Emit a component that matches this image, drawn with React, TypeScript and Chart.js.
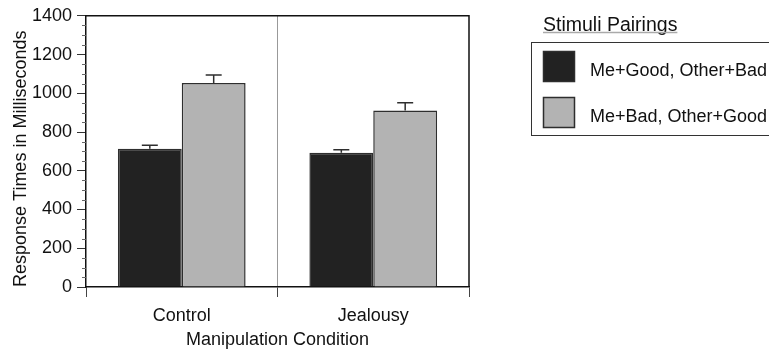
import React, { useEffect, useRef } from "react";
import { Chart, registerables } from "chart.js";

Chart.register(...registerables);

const categories = ["Control", "Jealousy"];
const seriesLabels = ["Me+Good, Other+Bad", "Me+Bad, Other+Good"];
const meGoodValues = [714, 693];
const meBadValues = [1053, 911];
const meGoodErrors = [18, 16];
const meBadErrors = [41, 40];
const yTicksMax = 1400;
const yMajorStep = 200;
const yMinorStep = 50;
const legendTitle = "Stimuli Pairings";
const xTitle = "Manipulation Condition";
const yTitle = "Response Times in Milliseconds";

const FONT = "'Liberation Sans', Arial, sans-serif";
const DARK = "#222222";
const GRAY = "#b3b3b3";
const EDGE = "#2e2e2e";

const errorsByDataset = [meGoodErrors, meBadErrors];

const errorBarPlugin = {
  id: "errorBars",
  afterDatasetsDraw(chart: any) {
    const ctx = chart.ctx;
    const yScale = chart.scales.y;
    ctx.save();
    ctx.strokeStyle = EDGE;
    ctx.lineWidth = 1.5;
    chart.data.datasets.forEach((ds: any, i: number) => {
      const meta = chart.getDatasetMeta(i);
      meta.data.forEach((el: any, j: number) => {
        const v = ds.data[j];
        const e = errorsByDataset[i][j];
        const yTop = yScale.getPixelForValue(v + e);
        ctx.beginPath();
        ctx.moveTo(el.x, el.y);
        ctx.lineTo(el.x, yTop);
        ctx.moveTo(el.x - 8, yTop);
        ctx.lineTo(el.x + 8, yTop);
        ctx.stroke();
      });
    });
    ctx.restore();
  },
};

const framePlugin = {
  id: "frame",
  afterDraw(chart: any) {
    const { ctx, chartArea } = chart;
    const yScale = chart.scales.y;
    ctx.save();
    // minor ticks
    ctx.strokeStyle = "#666";
    ctx.lineWidth = 1;
    for (let v = 0; v <= yTicksMax; v += yMinorStep) {
      if (v % yMajorStep === 0) continue;
      const y = Math.round(yScale.getPixelForValue(v)) + 0.5;
      ctx.beginPath();
      ctx.moveTo(chartArea.left - 4, y);
      ctx.lineTo(chartArea.left, y);
      ctx.stroke();
    }
    // top and right border
    ctx.strokeStyle = "#111";
    ctx.lineWidth = 1.5;
    ctx.beginPath();
    ctx.moveTo(chartArea.left, chartArea.top);
    ctx.lineTo(chartArea.right, chartArea.top);
    ctx.lineTo(chartArea.right, chartArea.bottom);
    ctx.stroke();

    // legend
    const lx = 543;
    ctx.fillStyle = "#111";
    ctx.font = `19.5px ${FONT}`;
    ctx.textBaseline = "alphabetic";
    ctx.textAlign = "left";
    ctx.fillText(legendTitle, lx, 30.5);
    const tw = ctx.measureText(legendTitle).width;
    ctx.strokeStyle = "#aaa";
    ctx.lineWidth = 1.5;
    ctx.beginPath();
    ctx.moveTo(lx, 32.5);
    ctx.lineTo(lx + tw, 32.5);
    ctx.stroke();

    ctx.strokeStyle = "#333";
    ctx.lineWidth = 1;
    ctx.strokeRect(531.5, 42.5, 300, 93);

    const rows = [
      { y: 51, baseline: 76 },
      { y: 97, baseline: 121.7 },
    ];
    chart.data.datasets.forEach((ds: any, i: number) => {
      const r = rows[i];
      ctx.fillStyle = ds.backgroundColor;
      ctx.fillRect(543, r.y, 32, 31);
      ctx.strokeStyle = EDGE;
      ctx.lineWidth = 1.5;
      ctx.strokeRect(543.5, r.y + 0.5, 31, 30);
      ctx.fillStyle = "#111";
      ctx.font = `18px ${FONT}`;
      ctx.fillText(ds.label, 590, r.baseline);
    });
    ctx.restore();
  },
};

export default function App() {
  const ref = useRef<HTMLCanvasElement | null>(null);
  useEffect(() => {
    if (!ref.current) return;
    const font = { family: FONT, size: 18 };
    const chart = new Chart(ref.current, {
      type: "bar",
      data: {
        labels: categories,
        datasets: [
          {
            label: seriesLabels[0],
            data: meGoodValues,
            backgroundColor: DARK,
            borderColor: EDGE,
            borderWidth: 1.5,
            categoryPercentage: 0.667,
            barPercentage: 1.0,
          },
          {
            label: seriesLabels[1],
            data: meBadValues,
            backgroundColor: GRAY,
            borderColor: EDGE,
            borderWidth: 1.5,
            categoryPercentage: 0.667,
            barPercentage: 1.0,
          },
        ],
      },
      options: {
        responsive: false,
        animation: false,
        layout: { padding: { left: 0, right: 300, top: 13, bottom: 0 } },
        plugins: {
          legend: { display: false },
          tooltip: { enabled: false },
        },
        scales: {
          x: {
            grid: {
              offset: true,
              drawOnChartArea: true,
              color: (c: any) => (c.index === 1 ? "#999" : "rgba(0,0,0,0)"),
              tickColor: "#444",
              tickLength: 10,
              lineWidth: 1,
            },
            border: { display: true, color: "#111", width: 1.5 },
            ticks: { font, color: "#111", padding: 8 },
            title: {
              display: true,
              text: xTitle,
              font,
              color: "#111",
              padding: { top: 0, bottom: 2 },
            },
            afterFit: (s: any) => {
              s.height = 66;
            },
          },
          y: {
            min: 0,
            max: yTicksMax,
            ticks: {
              stepSize: yMajorStep,
              font,
              color: "#111",
              padding: 5,
              callback: (v: any) => String(v),
            },
            grid: {
              drawOnChartArea: false,
              tickLength: 9,
              color: "#333",
              tickColor: "#333",
            },
            border: { display: true, color: "#111", width: 1.5 },
            title: {
              display: true,
              text: yTitle,
              font,
              color: "#111",
              align: "start",
              padding: { top: 10, bottom: 0 },
            },
            afterFit: (s: any) => {
              s.width = 86;
            },
          },
        },
      },
      plugins: [errorBarPlugin, framePlugin],
    } as any);
    return () => chart.destroy();
  }, []);
  return (
    <canvas
      ref={ref}
      width={769}
      height={353}
      style={{ position: "absolute", left: 0, top: 0, width: 769, height: 353 }}
    />
  );
}
